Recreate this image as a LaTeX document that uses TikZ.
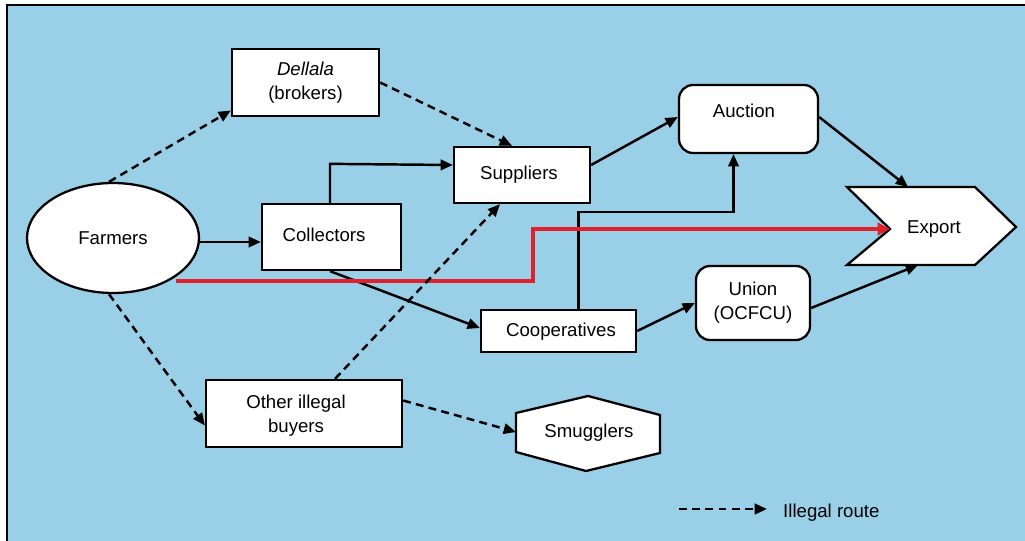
\documentclass[tikz,border=0pt]{standalone}
\usepackage{fontspec}
\setmainfont{Liberation Sans}
\usetikzlibrary{arrows.meta,shapes.geometric}
\definecolor{bgblue}{HTML}{99D0E7}
\definecolor{redline}{HTML}{E0202A}
\tikzset{
  every node/.style={font=\fontsize{10.6}{13.5}\selectfont},
  box/.style={draw, fill=white, line width=1.3pt, inner sep=0pt},
  con/.style={line width=1.4pt, -{Triangle[length=7pt,width=6pt]}},
  ill/.style={con, dash pattern=on 4.5pt off 3pt},
}
\begin{document}
\begin{tikzpicture}[x=0.02cm,y=-0.02cm]
\useasboundingbox (0,0) rectangle (1025,541);
\fill[bgblue] (7,5) rectangle (1030,546);
\draw[line width=1.4pt] (7,548) -- (7,5) -- (1030,5);

% nodes
\node[box, ellipse, minimum width=172*0.02cm, minimum height=110*0.02cm] (farm) at (113,238) {Farmers};
\node[box, minimum width=147*0.02cm, minimum height=67*0.02cm, align=center] (dell) at (305.5,82.5) {\textit{Dellala}\\(brokers)};
\node[box, minimum width=139*0.02cm, minimum height=66*0.02cm] (coll) at (331.5,237) {};
\node (collt) at (324,235) {Collectors};
\node[box, minimum width=136*0.02cm, minimum height=56*0.02cm] (supp) at (522,175) {};
\node (suppt) at (519,175) {Suppliers};
\node[box, rounded corners=8pt, minimum width=139*0.02cm, minimum height=68*0.02cm] (auct) at (748.5,119) {};
\node (auctt) at (744,111) {Auction};
\node[box, minimum width=155*0.02cm, minimum height=42*0.02cm] (coop) at (558.5,331) {};
\node (coopt) at (561,332) {Cooperatives};
\node[box, rounded corners=8pt, minimum width=114*0.02cm, minimum height=74*0.02cm, align=center] (union) at (753,303) {Union\\(OCFCU)};
\node[box, minimum width=196*0.02cm, minimum height=67*0.02cm] (oth) at (304,413.5) {};
\node[align=center] (otht) at (296,416) {Other illegal\\buyers};
% Export chevron
\draw[box] (847,187) coordinate (exTL) -- (975,187) -- (1016,227) coordinate (exTip) -- (975,265) -- (847,265) coordinate (exBL) -- (890,229) coordinate (exN) -- cycle;
\node (exp) at (934,229) {Export};
\coordinate (exTop) at (908,187);
\coordinate (exBot) at (918,265);
% Smugglers hexagon
\draw[box] (516,413) -- (588,396) -- (660,415) -- (660,453) -- (586,471) -- (516,452) -- cycle;
\node (smug) at (589,433) {Smugglers};
\coordinate (smugL) at (516,432);

% connectors
\draw[ill] (farm.north) ++(-4,0) coordinate (fn) (fn) -- ([yshift=-0.56cm]dell.west);
\draw[ill] (dell.east) -- ([xshift=-0.2cm]supp.north);
\draw[con] (farm.east |- 0,242) -- (coll.west |- 0,242);
\draw[con] ([xshift=-0.03cm]coll.north) -- ++(0,-39) -- ([yshift=0.2cm]supp.west);
\draw[con] ([xshift=-0.03cm]coll.south) -- ([yshift=0.06cm]coop.west);
\draw[con] ([yshift=0.2cm]supp.east) -- ([yshift=0.04cm]auct.west);
\draw[con] ([xshift=0.4cm]coop.north) -- ++(0,-97) -| ([xshift=-0.3cm]auct.south);
\draw[con] (coop.east) -- (union.west);
\draw[con] ([yshift=0.04cm]auct.east) -- (exTop);
\draw[con] ([yshift=-0.1cm]union.east) -- (exBot);
\draw[line width=2.2pt, redline, -{Triangle[length=7pt,width=7pt]}] (176,281) -- (533,281) -- (533,229) -- (exN);
\draw[ill] (farm.south) ++(-4,0) coordinate (fs) (fs) -- ([yshift=-0.24cm]oth.west);
\draw[ill] ([xshift=0.62cm]oth.north) -- ([xshift=-0.44cm]supp.south);
\draw[ill] ([yshift=0.26cm]oth.east) -- (smugL);

% legend
\coordinate (lgA) at (679,509);
\coordinate (lgB) at (767,509);
\draw[ill] (lgA) -- (lgB);
\node[anchor=west] (lgt) at (777,513) {Illegal route};
\end{tikzpicture}
\end{document}
